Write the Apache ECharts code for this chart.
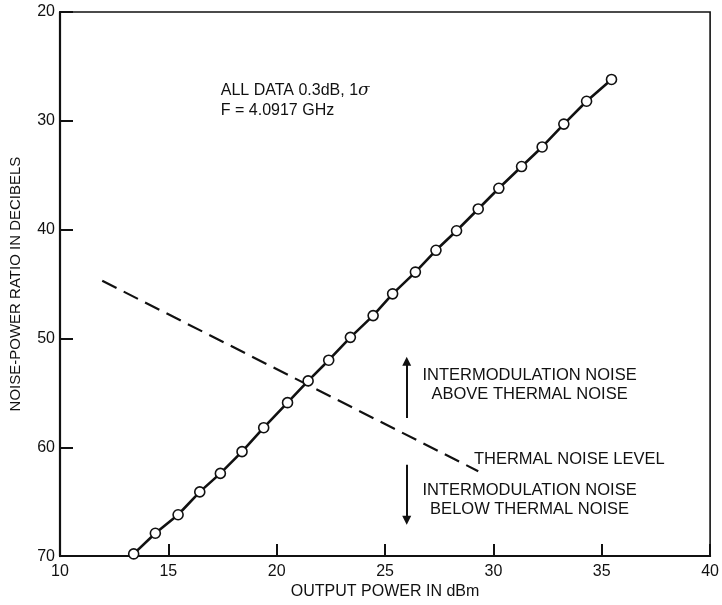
<!DOCTYPE html>
<html>
<head>
<meta charset="utf-8">
<script src="https://cdn.jsdelivr.net/npm/echarts@6/dist/echarts.min.js"></script>
<style>
  html, body { margin: 0; padding: 0; background: #fff; }
  #main { width: 722px; height: 605px; }
</style>
</head>
<body>
<div id="main"></div>
<script>
// measured points (output power dBm, noise-power ratio dB)
var powerOut = [13.4, 14.4, 15.45, 16.45, 17.4, 18.4, 19.4, 20.5, 21.45, 22.4, 23.4, 24.45,
  25.35, 26.4, 27.35, 28.3, 29.3, 30.25, 31.3, 32.25, 33.25, 34.3, 35.45];
var nprValues = [69.8, 67.9, 66.2, 64.1, 62.4, 60.4, 58.2, 55.9, 53.9, 52.0, 49.9, 47.9,
  45.9, 43.9, 41.9, 40.1, 38.1, 36.2, 34.2, 32.4, 30.3, 28.2, 26.2];

// thermal noise level (dashed)
var thermalX = [11.95, 29.3];
var thermalY = [44.7, 62.2];

// arrows
var arrowX = 26.0;
var arrowUp = [57.3, 52.1];
var arrowDown = [61.6, 66.7];

var xTicks = [10, 15, 20, 25, 30, 35, 40];
var yTicks = [20, 30, 40, 50, 60, 70];

var FONT = "Liberation Sans";
var INK = "#111";

var chart = echarts.init(document.getElementById("main"));

var option = {
  backgroundColor: "#fff",
  animation: false,
  textStyle: { fontFamily: FONT, color: INK },
  grid: {
    left: 57, right: 10, top: 12, bottom: 48,
    show: true, borderColor: INK, borderWidth: 1.6, backgroundColor: "transparent"
  },
  xAxis: {
    type: "value",
    min: xTicks[0], max: xTicks[xTicks.length - 1], interval: 5,
    name: "OUTPUT POWER IN dBm",
    nameLocation: "middle", nameGap: 22,
    nameTextStyle: { fontSize: 16, color: INK, fontFamily: FONT },
    axisLine: { show: true, lineStyle: { color: INK, width: 2.2 } },
    axisTick: { show: true, inside: true, length: 12, lineStyle: { color: INK, width: 2 } },
    axisLabel: { fontSize: 16, color: INK, margin: 7, fontFamily: FONT },
    splitLine: { show: false }
  },
  yAxis: {
    type: "value",
    inverse: true,
    min: yTicks[0], max: yTicks[yTicks.length - 1], interval: 10,
    name: "NOISE-POWER RATIO IN DECIBELS",
    nameLocation: "middle", nameGap: 37,
    nameTextStyle: { fontSize: 15, color: INK, fontFamily: FONT },
    axisLine: { show: true, lineStyle: { color: INK, width: 2.2 } },
    axisTick: { show: true, inside: true, length: 13, lineStyle: { color: INK, width: 2 } },
    axisLabel: { fontSize: 16, color: INK, margin: 5, fontFamily: FONT },
    splitLine: { show: false }
  },
  series: [
    {
      name: "thermal",
      type: "line",
      data: thermalX.map(function (x, i) { return [x, thermalY[i]]; }),
      symbol: "none",
      lineStyle: { color: INK, width: 2.2, type: [16, 8] },
      silent: true,
      z: 2
    },
    {
      name: "npr",
      type: "line",
      data: powerOut.map(function (x, i) { return [x, nprValues[i]]; }),
      symbol: "circle",
      symbolSize: 10,
      showAllSymbol: true,
      clip: false,
      lineStyle: { color: INK, width: 2.6 },
      itemStyle: { color: "#fff", borderColor: INK, borderWidth: 1.6 },
      z: 3
    },
    {
      name: "arrows",
      type: "lines",
      coordinateSystem: "cartesian2d",
      symbol: ["none", "triangle"],
      symbolSize: [0, 9],
      lineStyle: { color: INK, width: 2, opacity: 1 },
      data: [
        { coords: [[arrowX, arrowUp[0]], [arrowX, arrowUp[1]]] },
        { coords: [[arrowX, arrowDown[0]], [arrowX, arrowDown[1]]] }
      ],
      silent: true
    }
  ]
};

chart.setOption(option);

// annotation text anchored in data space (top-left / top-centre of each block)
function px(x, y) { return chart.convertToPixel({ gridIndex: 0 }, [x, y]); }
var noteA = px(17.42, 26.3);
var noteB = px(31.67, 52.5);
var noteC = px(29.1, 60.2);
var noteD = px(31.67, 63.1);
var txt = { fontFamily: FONT, fontSize: 16.5, fill: INK, lineHeight: 19 };

chart.setOption({
  graphic: [
    {
      type: "text", x: noteA[0], y: noteA[1],
      style: {
        text: "{n|ALL DATA 0.3dB, 1}{s|σ}\n{n|F = 4.0917 GHz}",
        fontFamily: FONT, fill: INK,
        rich: {
          n: { fontSize: 16, fontFamily: FONT, color: INK, lineHeight: 20 },
          s: { fontSize: 17, fontFamily: "DejaVu Serif", fontStyle: "italic", color: INK, lineHeight: 20 }
        }
      }
    },
    {
      type: "text", x: noteB[0], y: noteB[1],
      style: Object.assign({ text: "INTERMODULATION NOISE\nABOVE THERMAL NOISE", align: "center" }, txt)
    },
    {
      type: "text", x: noteC[0], y: noteC[1],
      style: Object.assign({ text: "THERMAL NOISE LEVEL" }, txt)
    },
    {
      type: "text", x: noteD[0], y: noteD[1],
      style: Object.assign({ text: "INTERMODULATION NOISE\nBELOW THERMAL NOISE", align: "center" }, txt)
    }
  ]
});
</script>
</body>
</html>
